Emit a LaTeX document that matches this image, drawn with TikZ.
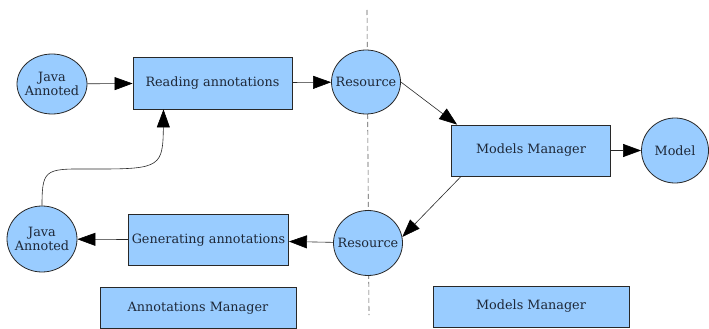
\documentclass[tikz,border=0pt]{standalone}
\usepackage{fontspec}
\setmainfont{DejaVu Serif}
\usetikzlibrary{arrows.meta, shapes.geometric, positioning}
\definecolor{boxblue}{RGB}{153,204,255}
\definecolor{edgegray}{RGB}{40,40,40}
\definecolor{txtgray}{RGB}{30,40,56}

\begin{document}
\begin{tikzpicture}[x=1pt,y=-1pt,font=\fontsize{12.8}{14}\selectfont,->,>={Triangle[length=18pt,width=13pt,color=black]},line width=0.6pt]

	\tikzset{node circ/.style={ellipse, draw=edgegray, line width=0.8pt,
			fill=boxblue, text=txtgray, align=center, inner xsep=-14pt, inner ysep=0pt,
			minimum width=69pt, minimum height=64pt}}
	\tikzset{node box/.style={rectangle, draw=edgegray, line width=0.8pt,
			fill=boxblue, text=txtgray, minimum width=159pt, minimum height=51pt}}
	\tikzset{node mgr/.style={node box, minimum width=196pt, minimum height=41pt}}
	\tikzset{link/.style={draw=edgegray}}

	\useasboundingbox (0,0) rectangle (709,329);

	% border between the two managers
	\coordinate (sep top) at (367,10);
	\coordinate (sep bot) at (369,315);
	\draw[-, dash pattern=on 5pt off 3pt, draw=black!65] (sep top) -- (sep bot);

	\node[node circ, minimum width=70pt, minimum height=60pt] (java1) at (52,84) {Java\\Annoted};
	\node[node box, minimum height=52pt] (read) at (212.5,83) {Reading annotations};
	\node[node circ] (res1) at (366,82) {Resource};
	\node[node box] (mm) at (531,150.5) {Models Manager};
	\node[node circ, minimum width=67pt, minimum height=65pt] (model) at (675,150.5) {Model};
	\node[node circ, minimum height=65pt] (res2) at (368,243) {Resource};
	\node[node box] (gen) at (208.5,240) {Generating annotations};
	\node[node circ, minimum width=70pt, minimum height=66pt] (java2) at (42,239) {Java\\Annoted};

	\node[node mgr] (am) at (198,308) {Annotations Manager};
	\node[node mgr] (mm2) at (531,306.5) {Models Manager};

	\draw[link] (java1) -- (read);
	\draw[link] (read) -- (res1);
	\draw[link] (res1.east) -- ([xshift=6pt]mm.north west);
	\draw[link] (mm) -- (model);
	\draw[link] ([xshift=10pt]mm.south west) -- (res2.10);
	\draw[link] (res2) -- (gen);
	\draw[link] (gen) -- (java2);

	\draw[link] (java2.north) .. controls (42,166) and (46,169) .. (100,169)
	.. controls (160,169) and (163,166) .. ([xshift=-49pt]read.south);
\end{tikzpicture}
\end{document}
